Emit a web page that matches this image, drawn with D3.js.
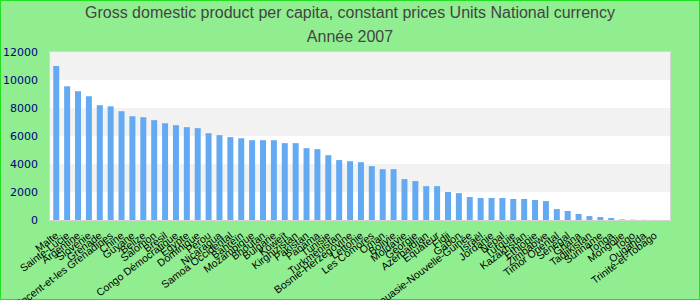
<!DOCTYPE html>
<html>
<head>
<meta charset="utf-8">
<script src="https://cdn.jsdelivr.net/npm/d3@7"></script>
<style>
  body { margin: 0; }
  svg { display: block; font-family: 'Liberation Sans', Arial, sans-serif; }
</style>
</head>
<body>
<svg width="700" height="300"></svg>
<script>
let titleLines = [
  'Gross domestic product per capita, constant prices Units National currency',
  'Année 2007'
]

let countries = [
  'Malte', 'Sainte-Lucie', 'Argentine', 'Slovénie', 'Grenade',
  'Saint-Vincent-et-les Grenadines', 'Chine', 'Guyane', 'Belize', 'Salomon',
  'Brésil', 'Congo Démocratique', 'Egypte', 'Dominique', 'Pérou',
  'Nicaragua', 'Samoa Occidental', 'Bahreïn', 'Mozambique', 'Bhoutan',
  'Bulgarie', 'Koweït', 'Kirghizistan', 'Pakistan', 'Panama',
  'Tunisie', 'Turkménistan', 'Bosnie-Herzégovine', 'Lettonie', 'Les Comores',
  'Oman', 'Bolivie', 'Moldavie', 'Géorgie', 'Azerbaïdjan',
  'Equateur', 'Fidji', 'Gabon', 'Papouasie-Nouvelle-Guinée', 'Israël',
  'Jordanie', 'Népal', 'Turquie', 'Kazakhstan', 'Ethiopie',
  'Zimbabwe', 'Timor Oriental', 'Sénégal', 'Ghana', 'Tadjikistan',
  'Suriname', 'Tonga', 'Mongolie', 'Togo', 'Ouganda',
  'Trinité-et-Tobago'
]

let values = [
  11000, 9550, 9200, 8840, 8200,
  8120, 7770, 7410, 7340, 7130,
  6910, 6770, 6630, 6560, 6200,
  6060, 5920, 5840, 5700, 5700,
  5700, 5490, 5490, 5130, 5060,
  4630, 4280, 4200, 4130, 3850,
  3630, 3630, 2920, 2780, 2420,
  2420, 2000, 1920, 1640, 1570,
  1570, 1570, 1500, 1500, 1430,
  1350, 780, 640, 430, 280,
  210, 140, 40, 20, 10,
  5
]

let yTicks = [0, 2000, 4000, 6000, 8000, 10000, 12000]

let width = 700
let height = 300
let margin = { top: 52, bottom: 80, left: 50, right: 30 }

let data = countries.map((c, i) => ({ country: c, value: values[i] }))

let svg = d3.select('svg')

// background + outer frame
svg.append('rect')
  .attr('x', 0.5).attr('y', 0.5)
  .attr('width', width - 1).attr('height', height - 1)
  .attr('fill', '#90ee90')
  .attr('stroke', '#22e022')

let xScale = d3.scaleBand()
  .domain(countries)
  .range([margin.left, 661])
  .paddingInner(0.45)
  .paddingOuter(0.3)

let yScale = d3.scaleLinear()
  .domain([0, 12000])
  .range([height - margin.bottom, margin.top])

// alternating bands
let bands = d3.pairs(yTicks)
svg.append('g')
  .selectAll('rect')
  .data(bands)
  .enter()
  .append('rect')
  .attr('x', margin.left)
  .attr('width', width - margin.left - margin.right)
  .attr('y', d => yScale(d[1]))
  .attr('height', d => yScale(d[0]) - yScale(d[1]))
  .attr('fill', (d, i) => i % 2 ? '#f2f2f2' : '#ffffff')

svg.append('rect')
  .attr('x', margin.left - 0.5)
  .attr('y', margin.top - 0.5)
  .attr('width', width - margin.left - margin.right + 1)
  .attr('height', height - margin.top - margin.bottom + 1)
  .attr('fill', 'none')
  .attr('stroke', '#d4d4d4')

svg.append('g')
  .selectAll('rect')
  .data(data)
  .enter()
  .append('rect')
  .attr('x', d => xScale(d.country))
  .attr('width', xScale.bandwidth())
  .attr('y', d => yScale(d.value))
  .attr('height', d => yScale(0) - yScale(d.value))
  .attr('fill', '#64aaf2')

// y axis
let yAxis = d3.axisLeft(yScale)
  .tickValues(yTicks)
  .tickFormat(d3.format('d'))
  .tickSize(0)
  .tickPadding(12)
let gy = svg.append('g')
  .attr('transform', 'translate(' + [margin.left, 0] + ')')
  .call(yAxis)
gy.select('.domain').remove()
gy.selectAll('text')
  .attr('fill', '#000080')
  .style('font-size', '11px')
  .style('font-family', "'DejaVu Sans', sans-serif")

// x axis, labels end at the tick and climb to the right
let xAxis = d3.axisBottom(xScale).tickSize(0).tickPadding(0)
let gx = svg.append('g')
  .attr('transform', 'translate(' + [0, height - margin.bottom] + ')')
  .call(xAxis)
gx.select('.domain').remove()
gx.selectAll('text')
  .attr('fill', '#000')
  .attr('y', null)
  .attr('dy', null)
  .style('font-size', '10.5px')
  .style('text-anchor', 'end')
  .attr('transform', 'translate(3,17) rotate(-37)')

// title
svg.append('g')
  .selectAll('text')
  .data(titleLines)
  .enter()
  .append('text')
  .attr('x', width / 2)
  .attr('y', (d, i) => 18 + i * 24)
  .attr('text-anchor', 'middle')
  .attr('fill', '#444')
  .style('font-size', '16px')
  .text(d => d)
</script>
</body>
</html>
